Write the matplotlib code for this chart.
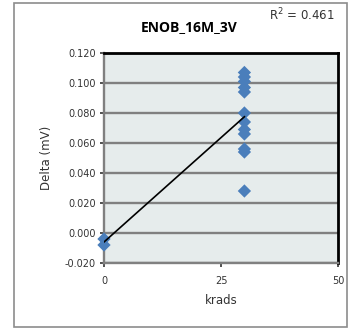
import numpy as np
import matplotlib
matplotlib.use("Agg")
import matplotlib.pyplot as plt
from matplotlib.patches import Rectangle

# Data
krads = [0, 0, 30, 30, 30, 30, 30, 30, 30, 30, 30, 30, 30, 30]
delta = [-0.004, -0.008, 0.107, 0.104, 0.101, 0.097, 0.094, 0.080,
         0.074, 0.069, 0.066, 0.056, 0.054, 0.028]
title = "ENOB_16M_3V"
r2_label = "R$^2$ = 0.461"
x_ticks = [0, 25, 50]
y_ticks = [-0.020, 0.000, 0.020, 0.040, 0.060, 0.080, 0.100, 0.120]

fig = plt.figure(figsize=(3.5, 3.3), dpi=100)
fig.patch.set_facecolor("white")
fig.patches.append(Rectangle((14/350, 3/330), 333/350, 324/330, transform=fig.transFigure,
                             fill=False, edgecolor="#8c8c8c", linewidth=1.2))

ax = fig.add_axes([104/350, 1-263/330, 234/350, 210/330])
ax.set_facecolor("#e6ecec")
ax.set_xlim(0, 50)
ax.set_ylim(-0.020, 0.120)
ax.set_xticks(x_ticks)
ax.set_yticks(y_ticks)
ax.set_yticklabels([f"{v:.3f}" for v in y_ticks])
ax.grid(axis="y", color="#808080", linewidth=1.7)
ax.set_axisbelow(True)
for s in ["top", "right"]:
    ax.spines[s].set_color("black")
    ax.spines[s].set_linewidth(2.0)
for s in ["left", "bottom"]:
    ax.spines[s].set_color("#808080")
    ax.spines[s].set_linewidth(1.7)
ax.tick_params(axis="both", labelsize=7, colors="#333333", length=3, width=1.2,
               direction="out")
ax.tick_params(axis="x", pad=6)
ax.tick_params(axis="y", pad=3)

ax.scatter(krads, delta, marker="D", s=46, color="#4a7ebb", zorder=3, clip_on=False,
           edgecolors="none")

xa = np.array(krads, dtype=float)
ya = np.array(delta)
m, b = np.polyfit(xa, ya, 1)
xs = np.array([xa.min(), xa.max()])
ax.plot(xs, m * xs + b, color="black", linewidth=1.2, zorder=4)

ax.set_xlabel("krads", fontsize=8.5, color="#333333", labelpad=6)
ax.set_ylabel("Delta (mV)", fontsize=8.5, color="#333333", labelpad=8)

fig.text(189/350, 1-27/330, title, ha="center", va="center", fontsize=10,
         fontweight="bold", family="Open Sans")
fig.text(302/350, 1-15/330, r2_label, ha="center", va="center", fontsize=8.5,
         color="#333333")

fig.savefig("out.png", dpi=100)
